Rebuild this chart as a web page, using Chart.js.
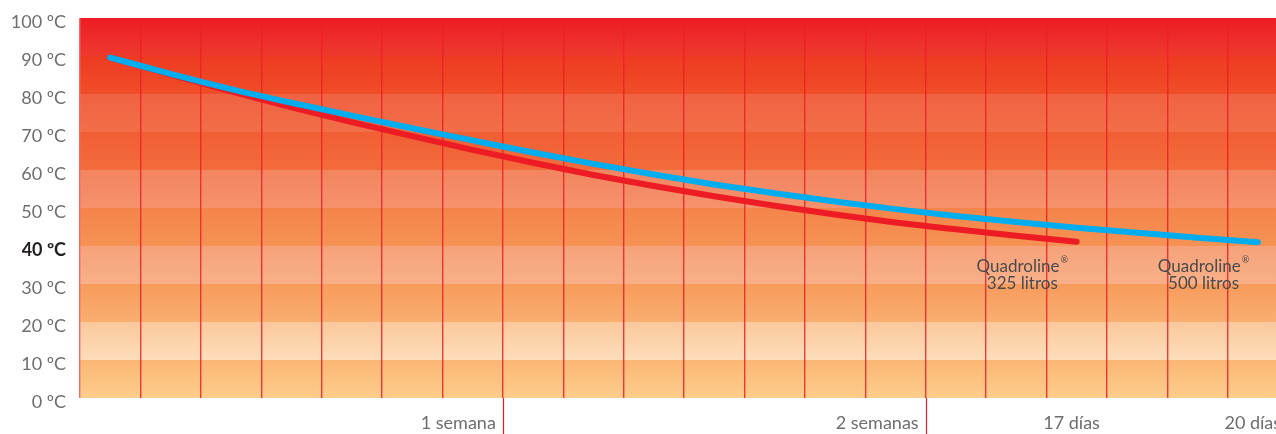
<!DOCTYPE html>
<html lang="es">
<head>
<meta charset="utf-8">
<title>Quadroline – enfriamiento del agua</title>
<script src="https://cdn.jsdelivr.net/npm/chart.js@4.4.1/dist/chart.umd.min.js"></script>
<style>
  html, body { margin: 0; padding: 0; background: #fff; }
  .wrap { position: relative; width: 1276px; height: 434px; }
</style>
</head>
<body>
<div class="wrap"><canvas id="chart"></canvas></div>
<script>
// Temperatura del agua (ºC) al centro de cada día
const DAYS = [1, 2, 3, 4, 5, 6, 7, 8, 9, 10, 11, 12, 13, 14, 15, 16, 17, 18, 19, 20];
const TEMP_500 = [89.6, 85.3, 81.3, 77.7, 74.3, 71.0, 67.8, 64.6, 61.6, 58.8,
                  56.2, 53.9, 51.7, 49.7, 47.9, 46.3, 44.8, 43.5, 42.2, 41.0];
const TEMP_325 = [89.6, 85.1, 80.7, 76.5, 72.6, 68.9, 65.3, 61.9, 58.7, 55.8,
                  53.1, 50.6, 48.3, 46.2, 44.4, 42.7, 41.1];

const SERIES_NAMES = ['Quadroline', 'Quadroline'];
const SERIES_VOLUMES = ['500 litros', '325 litros'];

// Marcas del eje X (fin de día) y sus textos
const X_TICK_DAYS = [7, 14, 17, 20];
const X_TICK_LABELS = ['1 semana', '2 semanas', '17 días', '20 días'];
const WEEK_DAYS = [7, 14];
const X_VISIBLE_DAYS = 19.8;   // el último día queda cortado por el borde
const Y_HIGHLIGHT = 40;

const COLORS = {
  blue: '#00aeef',
  red: '#ed1c24',
  grid: 'rgba(236,30,38,0.85)',
  gridFirst: '#f36d6d',
  text: '#6d6e71',
  strong: '#231f20',
  note: '#4a4a4c',
};

// Franjas de 10 ºC, de abajo (0-10) hacia arriba (90-100): [arriba, abajo]
const BAND_COLORS = [
  ['#fbb674', '#fdcd8c'],
  ['#fbc89c', '#fddeba'],
  ['#f79b5c', '#f9ae70'],
  ['#f6a27a', '#f8b088'],
  ['#f4844a', '#f69254'],
  ['#f38460', '#f5926c'],
  ['#f15e34', '#f36c3c'],
  ['#f06242', '#f26e48'],
  ['#ee3a22', '#f04e28'],
  ['#ed1c24', '#ee3a2e'],
];

const FONT = 'Lato, "Noto Sans", sans-serif';

const isHighlight = c => !!(c && c.tick && c.tick.value === Y_HIGHLIGHT);

const bandsPlugin = {
  id: 'bands',
  beforeDraw(chart) {
    const { ctx, chartArea: a, scales: { y } } = chart;
    ctx.save();
    BAND_COLORS.forEach(([top, bottom], i) => {
      const y0 = y.getPixelForValue((i + 1) * 10);
      const y1 = y.getPixelForValue(i * 10);
      const g = ctx.createLinearGradient(0, y0, 0, y1);
      g.addColorStop(0, top);
      g.addColorStop(1, bottom);
      ctx.fillStyle = g;
      ctx.fillRect(a.left, y0, a.right - a.left, y1 - y0);
    });
    ctx.restore();
  },
  afterDraw(chart) {
    // las semanas se prolongan por debajo del eje
    const { ctx, chartArea: a, scales: { x } } = chart;
    ctx.save();
    ctx.strokeStyle = COLORS.red;
    ctx.lineWidth = 1.2;
    WEEK_DAYS.forEach(d => {
      const px = Math.round(x.getPixelForValue(d)) + 0.5;
      ctx.beginPath();
      ctx.moveTo(px, a.bottom);
      ctx.lineTo(px, chart.height);
      ctx.stroke();
    });
    ctx.restore();
  },
};

const notesPlugin = {
  id: 'notes',
  afterDatasetsDraw(chart) {
    const { ctx, scales: { x, y } } = chart;
    ctx.save();
    ctx.fillStyle = COLORS.note;
    ctx.textBaseline = 'middle';
    chart.data.datasets.forEach((ds, i) => {
      const last = ds.data[ds.data.length - 1];
      const cx = x.getPixelForValue(last.x - 0.9);
      const y1 = y.getPixelForValue(34.7);
      const y2 = y.getPixelForValue(30.0);
      ctx.font = '17px ' + FONT;
      const name = SERIES_NAMES[i];
      const wName = ctx.measureText(name).width;
      ctx.font = '9px ' + FONT;
      const wReg = ctx.measureText('®').width;
      const left = cx - (wName + wReg + 1) / 2;
      ctx.font = '17px ' + FONT;
      ctx.textAlign = 'left';
      ctx.fillText(name, left, y1);
      ctx.font = '9px ' + FONT;
      ctx.fillText('®', left + wName + 1, y1 - 6);
      ctx.font = '17px ' + FONT;
      ctx.textAlign = 'center';
      ctx.fillText(SERIES_VOLUMES[i], cx, y2);
    });
    ctx.restore();
  },
};

const toPoints = vals => vals.map((v, i) => ({ x: DAYS[i] - 0.5, y: v }));

new Chart(document.getElementById('chart'), {
  type: 'line',
  data: {
    datasets: [
      { label: '500 litros', data: toPoints(TEMP_500), borderColor: COLORS.blue },
      { label: '325 litros', data: toPoints(TEMP_325), borderColor: COLORS.red },
    ],
  },
  options: {
    responsive: true,
    maintainAspectRatio: false,
    animation: false,
    layout: { padding: { top: 18, right: 0, left: 0, bottom: 0 } },
    elements: {
      line: { borderWidth: 6, borderCapStyle: 'round', borderJoinStyle: 'round', cubicInterpolationMode: 'monotone' },
      point: { radius: 0, hoverRadius: 0 },
    },
    plugins: { legend: { display: false }, tooltip: { enabled: false } },
    scales: {
      x: {
        type: 'linear',
        min: 0,
        max: X_VISIBLE_DAYS,
        border: { display: false },
        grid: {
          drawTicks: false,
          lineWidth: 1.4,
          color: c => (c.tick && c.tick.value === 0 ? COLORS.gridFirst : COLORS.grid),
        },
        // una línea por día, incluido el final del día 20
        afterBuildTicks: s => { s.ticks = [0, ...DAYS].map(v => ({ value: v })); },
        ticks: {
          autoSkip: false,
          maxRotation: 0,
          align: 'end',
          labelOffset: -7,
          padding: 14,
          color: COLORS.text,
          font: { family: FONT, size: 18 },
          callback: v => {
            const k = X_TICK_DAYS.indexOf(v);
            return k >= 0 ? X_TICK_LABELS[k] : '';
          },
        },
        afterFit: s => { s.height = 36; s.paddingLeft = 0; s.paddingRight = 0; },
      },
      y: {
        min: 0,
        max: 100,
        border: { display: false },
        grid: { display: false, drawTicks: false },
        ticks: {
          stepSize: 10,
          padding: 14,
          labelOffset: 4,
          color: c => (isHighlight(c) ? COLORS.strong : COLORS.text),
          font: c => ({ family: FONT, size: 18, weight: isHighlight(c) ? 'bold' : 'normal' }),
          callback: v => v + ' ºC',
        },
        afterFit: s => { s.width = 80; s.paddingTop = 0; s.paddingBottom = 0; },
      },
    },
  },
  plugins: [bandsPlugin, notesPlugin],
});
</script>
</body>
</html>
